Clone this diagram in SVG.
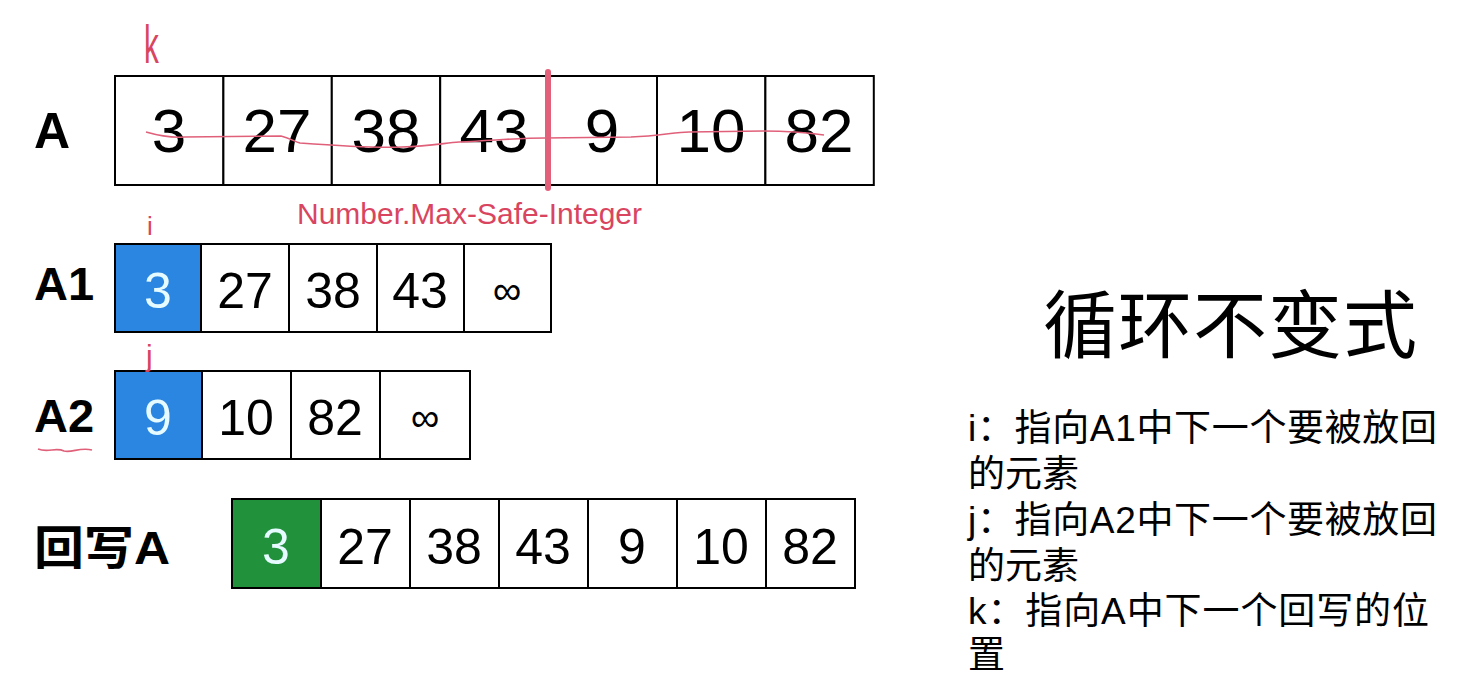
<svg xmlns="http://www.w3.org/2000/svg" width="1468" height="678" viewBox="0 0 1468 678">
<style>
.cell{fill:#fff;stroke:#000;stroke-width:2}
.blue{fill:#2a86e0;stroke:#000;stroke-width:2}
.green{fill:#21913c;stroke:#000;stroke-width:2}
.num{font-family:"Liberation Sans",Arial,sans-serif;text-anchor:middle;fill:#000}
.big{font-size:62px}
.mid{font-size:50px}
.inf{font-size:40px}
.lt{fill:#e6fbff}
.lbl{font-family:"Liberation Sans","Noto Sans CJK SC",sans-serif;font-weight:bold;fill:#000}
.cjk{font-family:"Liberation Sans","Noto Sans CJK SC",sans-serif;fill:#000}
.desc{font-size:37px}
.red{fill:#d9455f;font-family:"Liberation Sans",sans-serif}
.redline{fill:none;stroke:#e0607a;stroke-width:1.6}
</style>
<rect width="1468" height="678" fill="#fff"/>

<g id="arrayA">
<text class="lbl" x="34" y="148" font-size="50">A</text>
<rect class="cell" x="115" y="76" width="108.4" height="109"/>
<rect class="cell" x="223.4" y="76" width="108.4" height="109"/>
<rect class="cell" x="331.8" y="76" width="108.4" height="109"/>
<rect class="cell" x="440.2" y="76" width="108.4" height="109"/>
<rect class="cell" x="548.6" y="76" width="108.4" height="109"/>
<rect class="cell" x="657" y="76" width="108.4" height="109"/>
<rect class="cell" x="765.4" y="76" width="108.4" height="109"/>
<text class="num big" x="169" y="152">3</text>
<text class="num big" x="277" y="152">27</text>
<text class="num big" x="386" y="152">38</text>
<text class="num big" x="494" y="152">43</text>
<text class="num big" x="602" y="152">9</text>
<text class="num big" x="711" y="152">10</text>
<text class="num big" x="819" y="152">82</text>
</g>

<g id="arrayA1">
<text class="lbl" x="34" y="300" font-size="47">A1</text>
<rect class="blue" x="115" y="244" width="86" height="88"/>
<rect class="cell" x="201" y="244" width="88" height="88"/>
<rect class="cell" x="289" y="244" width="88" height="88"/>
<rect class="cell" x="377" y="244" width="87" height="88"/>
<rect class="cell" x="464" y="244" width="87" height="88"/>
<text class="num mid lt" x="158" y="308">3</text>
<text class="num mid" x="245" y="308">27</text>
<text class="num mid" x="333" y="308">38</text>
<text class="num mid" x="420" y="308">43</text>
<text class="num inf" x="507" y="304">∞</text>
</g>

<g id="arrayA2">
<text class="lbl" x="34" y="432" font-size="47">A2</text>
<rect class="blue" x="115" y="371" width="87" height="88"/>
<rect class="cell" x="202" y="371" width="89" height="88"/>
<rect class="cell" x="291" y="371" width="89" height="88"/>
<rect class="cell" x="380" y="371" width="90" height="88"/>
<text class="num mid lt" x="158" y="435">9</text>
<text class="num mid" x="246" y="435">10</text>
<text class="num mid" x="335" y="435">82</text>
<text class="num inf" x="425" y="431">∞</text>
</g>

<g id="writeBack">
<text class="lbl" x="34" y="564" font-size="46" textLength="136" lengthAdjust="spacingAndGlyphs">回写A</text>
<rect class="green" x="232" y="499" width="89" height="89"/>
<rect class="cell" x="321" y="499" width="89" height="89"/>
<rect class="cell" x="410" y="499" width="89" height="89"/>
<rect class="cell" x="499" y="499" width="89" height="89"/>
<rect class="cell" x="588" y="499" width="89" height="89"/>
<rect class="cell" x="677" y="499" width="89" height="89"/>
<rect class="cell" x="766" y="499" width="89" height="89"/>
<text class="num mid lt" x="276" y="564">3</text>
<text class="num mid" x="365" y="564">27</text>
<text class="num mid" x="454" y="564">38</text>
<text class="num mid" x="543" y="564">43</text>
<text class="num mid" x="632" y="564">9</text>
<text class="num mid" x="721" y="564">10</text>
<text class="num mid" x="810" y="564">82</text>
</g>

<g id="invariant">
<text class="cjk" x="1043" y="352" font-size="74" textLength="374">循环不变式</text>
<text class="cjk desc" x="968" y="441" textLength="469">i：指向A1中下一个要被放回</text>
<text class="cjk desc" x="968" y="487">的元素</text>
<text class="cjk desc" x="968" y="533" textLength="469">j：指向A2中下一个要被放回</text>
<text class="cjk desc" x="968" y="579">的元素</text>
<text class="cjk desc" x="968" y="624" textLength="461">k：指向A中下一个回写的位</text>
<text class="cjk desc" x="968" y="668">置</text>
</g>

<g id="annotations">
<line x1="548" y1="72" x2="548" y2="188" stroke="#e3607a" stroke-width="6" stroke-linecap="round"/>
<path class="redline" d="M146,132 C160,136 170,138 184,137 L281,136 C290,138 295,142 300,143 C340,146 380,148 402,147 C430,146 445,143 459,142 C500,140 520,138 545,138 L631,137 C660,136 675,132 689,132 L763,131 C790,131 810,133 824,135"/>
<text class="red" x="144" y="63" font-size="54" transform="translate(144 63) scale(0.55 1) translate(-144 -63)">k</text>
<text class="red" x="147" y="235" font-size="26">i</text>
<text class="red" x="146" y="366" font-size="30">j</text>
<text class="red" x="297" y="224" font-size="30" textLength="345" lengthAdjust="spacingAndGlyphs">Number.Max-Safe-Integer</text>
<path class="redline" d="M38,449 C48,453 56,447 64,451 C72,453 80,447 92,450"/>
</g>
</svg>
